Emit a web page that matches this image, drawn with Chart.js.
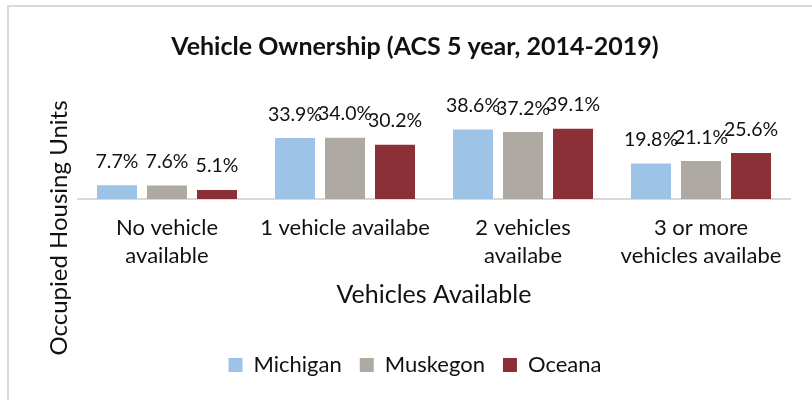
<!DOCTYPE html>
<html lang="en">
<head>
    <meta charset="UTF-8">
    <title>Vehicle Ownership</title>
    <script src="https://cdn.jsdelivr.net/npm/chart.js"></script>
    <style>
        body { margin: 0; background: #fff; }
        #frame { position: absolute; left: 7px; top: 5px; width: 900px; height: 500px; border: 2px solid #d9d9d9; }
        #wrap { position: absolute; left: 0; top: 0; width: 812px; height: 400px; }
    </style>
</head>
<body>
    <div id="frame"></div>
    <div id="wrap"><canvas id="vehChart" width="812" height="400"></canvas></div>

    <script>
        const categories = [['No vehicle', 'available'], '1 vehicle availabe', ['2 vehicles', 'availabe'], ['3 or more', 'vehicles availabe']];
        const michigan = [7.7, 33.9, 38.6, 19.8];
        const muskegon = [7.6, 34.0, 37.2, 21.1];
        const oceana = [5.1, 30.2, 39.1, 25.6];

        const FONT = 'Lato, "Open Sans", sans-serif';
        const TEXT = '#111';

        // value labels above each bar
        const barLabels = {
            id: 'barLabels',
            afterDatasetsDraw(chart) {
                const ctx = chart.ctx;
                ctx.save();
                ctx.font = '19.5px ' + FONT;
                ctx.fillStyle = TEXT;
                ctx.textAlign = 'center';
                ctx.textBaseline = 'bottom';
                chart.data.datasets.forEach((ds, i) => {
                    chart.getDatasetMeta(i).data.forEach((bar, j) => {
                        ctx.fillText(ds.data[j].toFixed(1) + '%', bar.x, bar.y - 14);
                    });
                });
                ctx.restore();
            }
        };

        // y axis title, centred on the whole plot like the original
        const yTitle = {
            id: 'yTitle',
            afterDraw(chart) {
                const ctx = chart.ctx;
                ctx.save();
                ctx.translate(59, 228);
                ctx.rotate(-Math.PI / 2);
                ctx.font = '24px ' + FONT;
                ctx.fillStyle = TEXT;
                ctx.textAlign = 'center';
                ctx.textBaseline = 'middle';
                ctx.fillText('Occupied Housing Units', 0, 0);
                ctx.restore();
            }
        };

        let ctx = document.getElementById('vehChart').getContext('2d');
        let chart = new Chart(ctx, {
            type: 'bar',
            data: {
                labels: categories,
                datasets: [
                    { label: 'Michigan', data: michigan, backgroundColor: '#9dc3e6' },
                    { label: 'Muskegon', data: muskegon, backgroundColor: '#aeaaa3' },
                    { label: 'Oceana', data: oceana, backgroundColor: '#8c3037' }
                ]
            },
            options: {
                responsive: false,
                animation: false,
                barPercentage: 0.8,
                categoryPercentage: 0.843,
                layout: { padding: { left: 40, right: 22, top: 0, bottom: 14 } },
                plugins: {
                    title: {
                        display: true,
                        text: 'Vehicle Ownership (ACS 5 year, 2014-2019)',
                        color: TEXT,
                        font: { family: FONT, size: 25, weight: 'bold', lineHeight: 1.2 },
                        padding: { top: 32, bottom: 38 }
                    },
                    legend: {
                        position: 'bottom',
                        labels: {
                            color: TEXT,
                            font: { family: FONT, size: 22 },
                            boxWidth: 14,
                            boxHeight: 14,
                            padding: 18
                        }
                    },
                    tooltip: { enabled: false }
                },
                scales: {
                    x: {
                        grid: { display: false, drawTicks: false },
                        border: { color: '#d9d9d9', width: 2 },
                        ticks: { color: TEXT, font: { family: FONT, size: 22, lineHeight: 1.27 }, padding: 15, maxRotation: 0 },
                        title: { display: true, text: 'Vehicles Available', color: TEXT, font: { family: FONT, size: 25, lineHeight: 1.2 }, padding: { top: -5, bottom: 26 } }
                    },
                    y: {
                        min: 0,
                        max: 55,
                        ticks: { display: false },
                        grid: { display: false, drawTicks: false },
                        border: { display: false },
                        afterFit(scale) { scale.width = 38; }
                    }
                }
            },
            plugins: [barLabels, yTitle]
        });
    </script>
</body>
</html>
